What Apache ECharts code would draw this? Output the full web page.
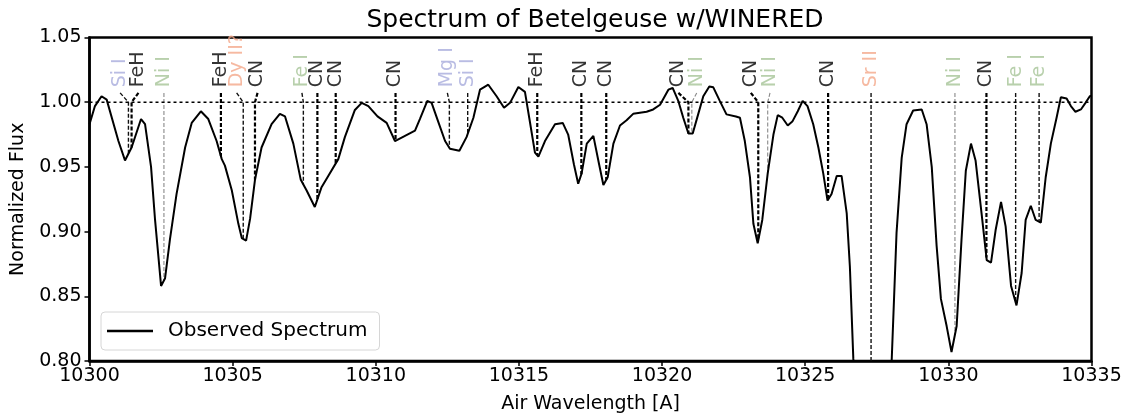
<!DOCTYPE html>
<html>
<head>
<meta charset="utf-8">
<title>Spectrum of Betelgeuse w/WINERED</title>
<script src="https://cdn.jsdelivr.net/npm/echarts@6/dist/echarts.min.js"></script>
<style>
  html, body { margin: 0; padding: 0; background: #fff; }
  #chart { width: 1128px; height: 419px; }
</style>
</head>
<body>
<div id="chart"></div>
<script>
// Observed spectrum: air wavelength [A] and normalized flux
const wavelength = [
  10300.00, 10300.19, 10300.42, 10300.60, 10301.01, 10301.24, 10301.47, 10301.80, 10301.94, 10302.15,
  10302.29, 10302.50, 10302.64, 10302.81, 10303.04, 10303.34, 10303.57, 10303.89, 10304.15, 10304.44,
  10304.62, 10304.73, 10304.97, 10305.20, 10305.32, 10305.47, 10305.61, 10305.78, 10306.01, 10306.36,
  10306.65, 10306.83, 10307.12, 10307.38, 10307.58, 10307.87, 10308.10, 10308.34, 10308.69, 10308.92,
  10309.27, 10309.51, 10309.74, 10310.06, 10310.38, 10310.67, 10311.02, 10311.37, 10311.54, 10311.80,
  10311.95, 10312.18, 10312.42, 10312.59, 10312.92, 10313.17, 10313.41, 10313.64, 10313.93, 10314.22,
  10314.48, 10314.69, 10314.98, 10315.21, 10315.36, 10315.56, 10315.68, 10315.91, 10316.26, 10316.53,
  10316.72, 10316.92, 10317.07, 10317.19, 10317.37, 10317.60, 10317.80, 10317.95, 10318.10, 10318.30,
  10318.53, 10318.76, 10318.99, 10319.46, 10319.69, 10319.93, 10320.22, 10320.37, 10320.57, 10320.74,
  10320.92, 10321.07, 10321.26, 10321.44, 10321.65, 10321.79, 10322.02, 10322.25, 10322.58, 10322.72,
  10322.89, 10323.07, 10323.19, 10323.34, 10323.50, 10323.69, 10323.89, 10324.04, 10324.20, 10324.39,
  10324.55, 10324.74, 10324.91, 10325.08, 10325.28, 10325.46, 10325.63, 10325.78, 10325.92, 10326.10,
  10326.27, 10326.45, 10326.56, 10326.68, 10326.85, 10327.05, 10327.30, 10327.55, 10327.80, 10328.02,
  10328.19, 10328.37, 10328.54, 10328.77, 10329.07, 10329.24, 10329.42, 10329.59, 10329.74, 10329.94,
  10330.11, 10330.29, 10330.46, 10330.61, 10330.79, 10330.95, 10331.16, 10331.34, 10331.49, 10331.65,
  10331.84, 10332.00, 10332.19, 10332.38, 10332.56, 10332.70, 10332.88, 10333.05, 10333.23, 10333.40,
  10333.58, 10333.78, 10333.93, 10334.13, 10334.28, 10334.44, 10334.63, 10334.79, 10334.94, 10335.00
];
const flux = [
  0.983, 0.997, 1.0046, 1.002, 0.970, 0.955, 0.965, 0.987, 0.983, 0.950,
  0.909, 0.858, 0.864, 0.894, 0.929, 0.965, 0.984, 0.993, 0.987, 0.970,
  0.956, 0.951, 0.932, 0.906, 0.895, 0.893, 0.910, 0.940, 0.965, 0.983,
  0.991, 0.989, 0.968, 0.940, 0.932, 0.919, 0.934, 0.943, 0.956, 0.973,
  0.994, 0.9995, 0.997, 0.989, 0.984, 0.970, 0.974, 0.978, 0.987, 1.001,
  0.9995, 0.985, 0.970, 0.964, 0.9625, 0.973, 0.988, 1.0097, 1.0135, 1.0046,
  0.9957, 0.9995, 1.0117, 1.008, 0.988, 0.961, 0.958, 0.970, 0.983, 0.984,
  0.975, 0.952, 0.937, 0.945, 0.968, 0.974, 0.952, 0.936, 0.942, 0.968,
  0.982, 0.986, 0.991, 0.9926, 0.9944, 0.998, 1.0097, 1.011, 1.0008, 0.988,
  0.9758, 0.9758, 0.9906, 1.0046, 1.0122, 1.0115, 1.0008, 0.9906, 0.989, 0.988,
  0.970, 0.942, 0.906, 0.891, 0.909, 0.945, 0.975, 0.990, 0.988, 0.982,
  0.985, 0.993, 1.001, 0.997, 0.983, 0.965, 0.945, 0.924, 0.929, 0.943,
  0.943, 0.914, 0.873, 0.802, 0.74, 0.69, 0.67, 0.70, 0.76, 0.80,
  0.899, 0.957, 0.983, 0.9936, 0.9944, 0.983, 0.950, 0.889, 0.848, 0.827,
  0.807, 0.827, 0.894, 0.947, 0.968, 0.955, 0.914, 0.878, 0.876, 0.901,
  0.923, 0.904, 0.858, 0.843, 0.868, 0.909, 0.920, 0.909, 0.907, 0.942,
  0.968, 0.988, 1.0038, 1.0028, 0.997, 0.9926, 0.9944, 0.9995, 1.0046, 1.005
];

// Identified absorption lines: species, line wavelength, label wavelength
const lineSpecies = ['Si I', 'FeH', 'Ni I', 'FeH', 'Dy II?', 'CN', 'Fe I', 'CN', 'CN', 'CN',
  'Mg I', 'Si I', 'FeH', 'CN', 'CN', 'CN', 'Ni I', 'CN', 'Ni I', 'CN',
  'Sr II', 'Ni I', 'CN', 'Fe I', 'Fe I'];
const lineWave = [10301.36, 10301.47, 10302.60, 10304.59, 10305.37, 10305.78, 10307.47, 10307.96, 10308.60, 10310.69,
  10312.57, 10313.21, 10315.64, 10317.18, 10318.05, 10320.92, 10321.04, 10323.36, 10323.69, 10325.80,
  10327.30, 10330.23, 10331.33, 10332.35, 10333.17];
const labelWave = [10301.07, 10301.71, 10302.60, 10304.59, 10305.14, 10305.87, 10307.42, 10307.96, 10308.60, 10310.69,
  10312.50, 10313.21, 10315.64, 10317.18, 10318.05, 10320.57, 10321.21, 10323.10, 10323.77, 10325.80,
  10327.30, 10330.23, 10331.33, 10332.35, 10333.17];

// Axis ticks
const xTicks = [10300, 10305, 10310, 10315, 10320, 10325, 10330, 10335];
const yTicks = [0.80, 0.85, 0.90, 0.95, 1.00, 1.05];

// ---- styling ----
const FONT = 'DejaVu Sans';
const labelColor = {
  'Si I': '#a7abdc', 'Mg I': '#a7abdc',
  'Ni I': '#a6c497', 'Fe I': '#a6c497',
  'Dy II?': '#f4a889', 'Sr II': '#f4a889',
  'CN': '#000', 'FeH': '#000'
};
function markerStyle(sp) {
  if (sp === 'CN' || sp === 'FeH') return { color: '#000', width: 2.2, type: [4, 2] };
  if (sp === 'Ni I') return { color: '#888', width: 1.1, type: [4, 2] };
  return { color: '#111', width: 1.4, type: [4, 2] };
}

const yMin = yTicks[0], yMax = yTicks[yTicks.length - 1];
const LINE_TOP = 1.0072;   // where the dashed marker starts under its label
const LABEL_BASE = 1.0115; // where the rotated label text begins

// flux of the observed spectrum at a given wavelength (marker ends on the curve)
function fluxAt(w) {
  for (let i = 1; i < wavelength.length; i++) {
    if (w <= wavelength[i]) {
      const t = (w - wavelength[i - 1]) / (wavelength[i] - wavelength[i - 1]);
      return flux[i - 1] + t * (flux[i] - flux[i - 1]);
    }
  }
  return flux[flux.length - 1];
}

const series = [];

// vertical dashed markers with short leaders to the labels
lineSpecies.forEach((sp, i) => {
  const bottom = Math.max(fluxAt(lineWave[i]), yMin);
  series.push({
    type: 'line',
    silent: true,
    symbol: 'none',
    z: 1,
    lineStyle: markerStyle(sp),
    data: [[labelWave[i], LINE_TOP], [lineWave[i], 1.0], [lineWave[i], bottom]]
  });
});

// continuum level
series.push({
  type: 'line',
  silent: true,
  symbol: 'none',
  z: 2,
  lineStyle: { color: '#000', width: 1.5, type: [3, 3] },
  data: [[xTicks[0], 1.0], [xTicks[xTicks.length - 1], 1.0]]
});

// species labels
series.push({
  type: 'scatter',
  silent: true,
  symbolSize: 0,
  z: 5,
  data: lineSpecies.map((sp, i) => ({
    value: [labelWave[i], LABEL_BASE],
    label: { color: labelColor[sp] }
  })),
  label: {
    show: true,
    position: [0, 0],
    rotate: 90,
    align: 'left',
    verticalAlign: 'middle',
    fontFamily: FONT,
    fontSize: 19,
    formatter: p => lineSpecies[p.dataIndex]
  }
});

// observed spectrum
series.push({
  name: 'Observed Spectrum',
  type: 'line',
  symbol: 'none',
  z: 3,
  clip: true,
  lineStyle: { color: '#000', width: 2 },
  itemStyle: { color: '#000' },
  data: wavelength.map((w, i) => [w, flux[i]])
});

const chart = echarts.init(document.getElementById('chart'), null, { renderer: 'canvas' });
chart.setOption({
  animation: false,
  backgroundColor: '#fff',
  title: {
    text: 'Spectrum of Betelgeuse w/WINERED',
    left: 590, textAlign: 'center', top: 3,
    textStyle: { fontFamily: FONT, fontSize: 25, fontWeight: 'normal', color: '#000' }
  },
  grid: {
    left: 89.5, right: 36.5, top: 37.5, bottom: 55,
    show: true, borderColor: '#000', borderWidth: 2.5, backgroundColor: 'transparent'
  },
  legend: {
    data: ['Observed Spectrum'],
    left: 101, top: 312,
    padding: [9, 12, 9, 6],
    icon: 'rect', itemWidth: 46, itemHeight: 2.5,
    backgroundColor: 'rgba(255,255,255,0.85)',
    borderColor: '#d6d6d6', borderWidth: 1, borderRadius: 4,
    textStyle: { fontFamily: FONT, fontSize: 20, color: '#000', padding: [0, 0, 0, 10] }
  },
  xAxis: {
    type: 'value',
    min: xTicks[0], max: xTicks[xTicks.length - 1], interval: 5,
    name: 'Air Wavelength [A]', nameLocation: 'middle', nameGap: 34,
    nameTextStyle: { fontFamily: FONT, fontSize: 19, color: '#000' },
    axisLine: { show: true, onZero: false, lineStyle: { color: '#000', width: 2.5 } },
    axisTick: { show: true, inside: false, length: 5, lineStyle: { color: '#000', width: 1.5 } },
    axisLabel: { fontFamily: FONT, fontSize: 19, color: '#000', margin: 6, formatter: v => String(Math.round(v)) },
    splitLine: { show: false }
  },
  yAxis: {
    type: 'value',
    min: yMin, max: yMax, interval: 0.05,
    name: 'Normalized Flux', nameLocation: 'middle', nameGap: 62,
    nameTextStyle: { fontFamily: FONT, fontSize: 19, color: '#000' },
    axisLine: { show: true, onZero: false, lineStyle: { color: '#000', width: 2.5 } },
    axisTick: { show: true, inside: false, length: 5, lineStyle: { color: '#000', width: 1.5 } },
    axisLabel: { fontFamily: FONT, fontSize: 19, color: '#000', margin: 8, formatter: v => v.toFixed(2) },
    splitLine: { show: false }
  },
  series: series
});
</script>
</body>
</html>
